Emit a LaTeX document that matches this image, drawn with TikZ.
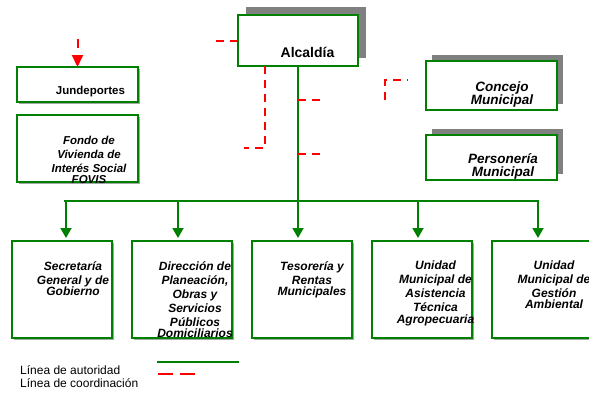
\documentclass[tikz,border=0pt]{standalone}
\usepackage{fontspec}
\setmainfont{Liberation Sans}
\usetikzlibrary{positioning,shadows,arrows.meta}

\definecolor{orggreen}{RGB}{0,128,0}
\definecolor{orgred}{RGB}{255,0,0}

\tikzset{
  unit/.style={draw=orggreen, line width=1.8pt, fill=white, inner sep=0pt, outer sep=0pt},
  bigshadow/.style={drop shadow={shadow xshift=#1, shadow yshift=#1, fill=black!50, opacity=1}},
  smallshadow/.style={drop shadow={shadow xshift=2pt, shadow yshift=-2pt, fill=black!35, opacity=1}},
  dep/.style={unit, smallshadow, minimum width=100pt, minimum height=97pt},
  lbl/.style={font=\fontsize{12}{14}\selectfont\bfseries\itshape, align=center, inner sep=0pt, anchor=north},
  auth/.style={draw=orggreen, line width=1.8pt},
  coord/.style={draw=orgred, line width=2pt, dash pattern=on 8pt off 6pt},
  greentip/.style={-{Triangle[length=10pt,width=11pt]}, shorten >=3pt},
  redtip/.style={-{Triangle[length=12pt,width=11pt]}}
}

\begin{document}
\begin{tikzpicture}[x=1pt,y=-1pt]
\useasboundingbox (0,0) rectangle (589,394);

% upper units
\node[unit, bigshadow=8pt, minimum width=120pt, minimum height=51pt] (alc) at (298,40.5) {};
\node[unit, smallshadow, minimum width=121pt, minimum height=35pt] (jun) at (77.5,84.5) {};
\node[unit, smallshadow, minimum width=121pt, minimum height=67pt] (fovis) [below=13pt of jun] {};
\node[unit, bigshadow=6pt, minimum width=131pt, minimum height=49pt] (conc) at (491.5,85.5) {};
\node[unit, bigshadow=6pt, minimum width=131pt, minimum height=45pt] (pers) [below=25pt of conc] {};

\node[font=\fontsize{14}{16}\selectfont\bfseries, inner sep=0pt, anchor=base] (talc) at (307.5,57) {Alcaldía};
\node[font=\fontsize{11.5}{14}\selectfont\bfseries, inner sep=0pt, anchor=base] (tjun) at (90.5,94) {Jundeportes};
\node[lbl, font=\fontsize{11.5}{14}\selectfont\bfseries\itshape] (tfovis) at (89,135.5) {Fondo de\\Vivienda de\\Interés Social\\[-3pt]FOVIS};
\node[lbl, font=\fontsize{13.5}{13}\selectfont\bfseries\itshape] (tconc) at (502,81.5) {Concejo\\Municipal};
\node[lbl, font=\fontsize{13.5}{13}\selectfont\bfseries\itshape] (tpers) at (503,153.5) {Personería\\Municipal};

% dependencias
\node[dep] (s1) at (62,289.5) {};
\node[dep] (s2) [right=20pt of s1] {};
\node[dep] (s3) [right=20pt of s2] {};
\node[dep] (s4) [right=20pt of s3] {};
\node[dep] (s5) [right=20pt of s4] {};

\node[lbl] (ts1) at ([shift={(11,20)}]s1.north) {Secretaría\\General y de\\[-3pt]Gobierno};
\node[lbl] (ts2) at ([shift={(13,20)}]s2.north) {Dirección de\\Planeación,\\Obras y\\Servicios\\Públicos\\[-3pt]Domiciliarios};
\node[lbl] (ts3) at ([shift={(10,20)}]s3.north) {Tesorería y\\Rentas\\[-3pt]Municipales};
\node[lbl] (ts4) at ([shift={(13.5,20)}]s4.north) {Unidad\\Municipal de\\Asistencia\\Técnica\\[-2pt]Agropecuaria};
\node[lbl] (ts5) at ([shift={(12,20)}]s5.north) {Unidad\\Municipal de\\Gestión\\[-3pt]Ambiental};

% autoridad
\coordinate (bus) at (298,201);
\coordinate (b1) at (64,201);
\coordinate (b5) at (539,201);
\draw[auth] (alc.south) -- (bus);
\draw[auth] (b1) -- (b5);
\draw[auth,greentip] ([xshift=4pt]s1.north |- bus) -- ([xshift=4pt]s1.north);
\foreach \s in {s2,s3,s4,s5}
  \draw[auth,greentip] ([xshift=-4pt]\s.north |- bus) -- ([xshift=-4pt]\s.north);

% coordinacion
\coordinate (r0) at (77.5,39);
\draw[coord, dash pattern=on 9pt off 7pt, redtip] (r0) -- (jun);
\coordinate (r1) at (216,40.5);
\draw[coord] (alc.west) -- (r1);
\coordinate (r2) at (265,148);
\coordinate (r3) at (244,148);
\draw[coord] (alc.south -| r2) -- (r2) -- (r3);
\coordinate (r4) at (320,100);
\coordinate (r5) at (320,154);
\draw[coord] (r4 -| bus) -- (r4);
\draw[coord] (r5 -| bus) -- (r5);
\coordinate (r6) at (385,100);
\coordinate (r7) at (385,80);
\coordinate (r8) at (408,80);
\draw[coord] (r6) -- (r7) -- (r8);

% convenciones
\node[font=\fontsize{12}{14}\selectfont, inner sep=0pt, anchor=base west] (l1) at (20,374) {Línea de autoridad};
\node[font=\fontsize{12}{14}\selectfont, inner sep=0pt, anchor=base west] (l2) at (20,387.5) {Línea de coordinación};
\coordinate (g1) at (157,362);
\coordinate (g2) at (239,362);
\draw[auth] (g1) -- (g2);
\coordinate (d1) at (158,374);
\coordinate (d2) at (196,374);
\draw[coord, dash pattern=on 15pt off 7pt] (d1) -- (d2);

\end{tikzpicture}
\end{document}
